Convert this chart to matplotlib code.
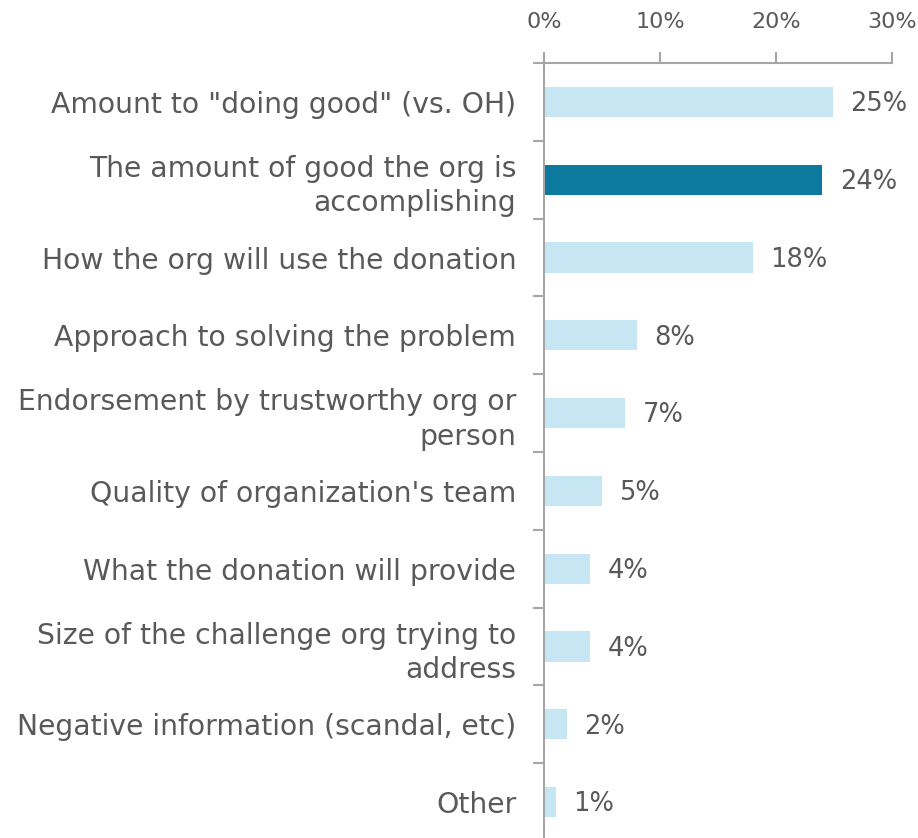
import matplotlib
matplotlib.use("Agg")
import matplotlib.pyplot as plt
from matplotlib.ticker import FixedLocator, PercentFormatter
import numpy as np

categories = [
    'Amount to "doing good" (vs. OH)',
    'The amount of good the org is\naccomplishing',
    'How the org will use the donation',
    'Approach to solving the problem',
    'Endorsement by trustworthy org or\nperson',
    "Quality of organization's team",
    'What the donation will provide',
    'Size of the challenge org trying to\naddress',
    'Negative information (scandal, etc)',
    'Other',
]
values = [24.9, 24.0, 18.0, 8.0, 7.0, 5.0, 4.0, 4.0, 2.0, 1.0]
labels = ['25%', '24%', '18%', '8%', '7%', '5%', '4%', '4%', '2%', '1%']
highlight = 1

light = '#c5e6f2'
dark = '#0b7a9e'
text_c = '#595959'
axis_c = '#a6a6a6'

plt.rcParams['font.family'] = ['DejaVu Sans']

fig = plt.figure(figsize=(9.18, 8.38), dpi=100)
ax = fig.add_axes([544/918, (838-841)/838, (892-544)/918, (841-63)/838])

y = np.arange(len(categories))
colors = [dark if i == highlight else light for i in range(len(categories))]
ax.barh(y, values, height=0.39, color=colors)
ax.set_xlim(0, 30)
ax.set_ylim(len(categories) - 0.5, -0.5)

for yi, v, lab in zip(y, values, labels):
    ax.text(v + 1.5, yi + 0.03, lab, va='center', ha='left', fontsize=18.5, color=text_c)

ax.xaxis.tick_top()
ax.xaxis.set_major_locator(FixedLocator([0, 10, 20, 30]))
ax.xaxis.set_major_formatter(PercentFormatter(decimals=0))
ax.tick_params(axis='x', direction='out', length=8, width=1.5, color=axis_c,
               labelsize=16, labelcolor=text_c, pad=14)

ax.set_yticks(y)
ax.set_yticklabels(categories, fontsize=20.3, color=text_c, ha='right', linespacing=1.3)
ax.tick_params(axis='y', which='major', length=0, pad=20)
ax.set_yticks(np.arange(len(categories)) - 0.5, minor=True)
ax.tick_params(axis='y', which='minor', length=8, width=1.5, color=axis_c, direction='out')

for s in ['right', 'bottom']:
    ax.spines[s].set_visible(False)
ax.spines['top'].set_color(axis_c)
ax.spines['top'].set_linewidth(1.5)
ax.spines['left'].set_color(axis_c)
ax.spines['left'].set_linewidth(1.5)

fig.savefig('out.png', dpi=100)
